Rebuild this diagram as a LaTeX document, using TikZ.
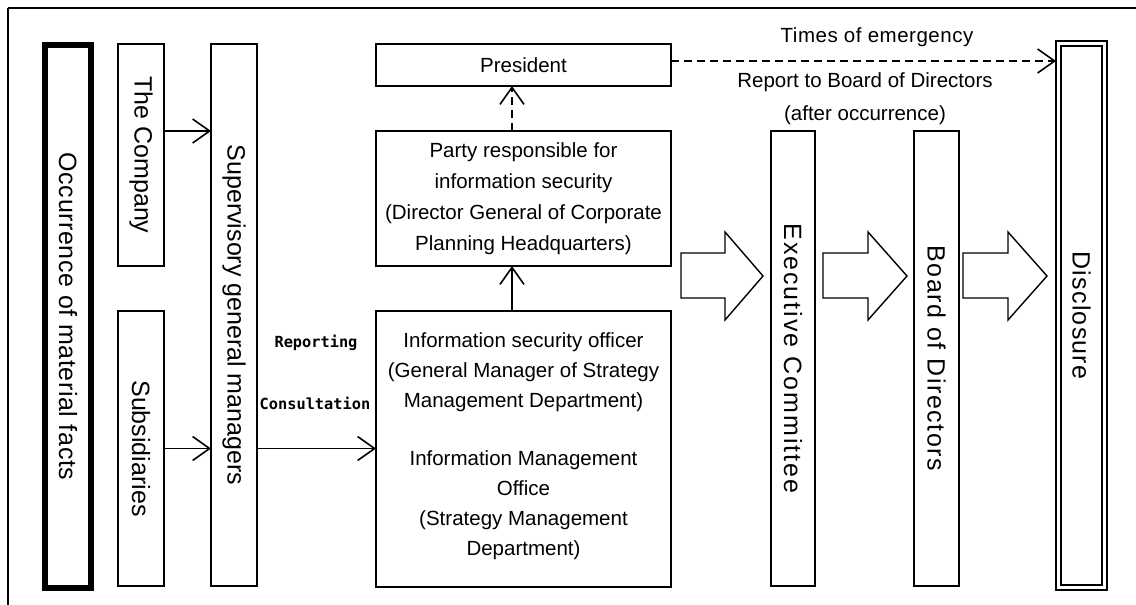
\documentclass[tikz,border=0pt]{standalone}
\usepackage{fontspec}
\setmainfont{Liberation Sans}
\newfontfamily\monob{DejaVu Sans Mono}
\newfontfamily\vexec{Liberation Sans}[LetterSpace=8]
\newfontfamily\vboard{Liberation Sans}[LetterSpace=6.5]
\newfontfamily\vdisc{Liberation Sans}[LetterSpace=5]
\newfontfamily\vocc{Liberation Sans}[LetterSpace=2.5]
\newfontfamily\htimes{Liberation Sans}[LetterSpace=2.5]
\usetikzlibrary{arrows.meta}
\begin{document}
\begin{tikzpicture}[x=1pt,y=-1pt,
  box/.style={draw, line width=2.6pt, inner sep=0pt, outer sep=0pt},
  htext/.style={align=center, inner sep=0pt, font=\fontsize{20.5}{31}\selectfont},
  vtext/.style={rotate=-90, inner sep=0pt, font=\fontsize{25}{30}\selectfont},
  smalllab/.style={inner sep=0pt, font=\monob\bfseries\fontsize{15.3}{18}\selectfont},
  conn/.style={line width=1.6pt, -{Straight Barb[length=17pt,width=24pt]}},
  dconn/.style={conn, dash pattern=on 8pt off 5pt},
  blockarrow/.style={draw, line width=1.4pt, line join=miter, fill=white}]
\useasboundingbox (0,0) rectangle (1136,605);
% outer frame (top and left only)
\draw[line width=2.5pt] (8,8) -- (1136,8);
\draw[line width=1.5pt] (8,8) -- (8,605);

% boxes
\node[box, line width=6pt, minimum width=46pt, minimum height=543pt] (occ) at (68,316.5) {};
\node[box, minimum width=46pt, minimum height=222pt] (company) at (141,155) {};
\node[box, minimum width=46pt, minimum height=275pt] (subs) at (141,448.5) {};
\node[box, minimum width=46pt, minimum height=542pt] (sup) at (234,315) {};
\node[box, minimum width=295pt, minimum height=42pt] (pres) at (523.5,65) {};
\node[box, minimum width=295pt, minimum height=135pt] (party) at (523.5,198.5) {};
\node[box, minimum width=295pt, minimum height=276pt] (info) at (523.5,449) {};
\node[box, minimum width=44pt, minimum height=455pt] (exec) at (793,358.5) {};
\node[box, minimum width=45pt, minimum height=455pt] (board) at (936.5,358.5) {};
\node[box, line width=2.8pt, minimum width=51pt, minimum height=549pt] (disc) at (1081.5,315.5) {};
\node[box, line width=1.6pt, minimum width=41pt, minimum height=539pt] (discin) at (disc.center) {};

% vertical labels
\node[vtext] (occT) at (occ.center) {\vocc Occurrence of material facts};
\node[vtext] (companyT) at (company.center) {The Company};
\node[vtext] (subsT) at (subs.center) {Subsidiaries};
\node[vtext] (supT) at (sup.center) {Supervisory general managers};
\node[vtext] (execT) at (exec.center) {\vexec Executive Committee};
\node[vtext] (boardT) at (board.center) {\vboard Board of Directors};
\node[vtext] (discT) at (disc.center) {\vdisc Disclosure};

% horizontal labels
\node[htext] (presT) at (pres.center) {President};
\node[htext] (partyT) at (party.center) {Party responsible for\\information security\\(Director General of Corporate\\Planning Headquarters)};
\node[htext, font=\fontsize{20.5}{30}\selectfont] (infoA) at (523.5,372) {Information security officer\\(General Manager of Strategy\\Management Department)};
\node[htext, font=\fontsize{20.5}{30}\selectfont] (infoB) at (523.5,505) {Information Management\\Office\\(Strategy Management\\Department)};
\node[htext, font=\htimes\fontsize{20.5}{31}\selectfont] (timesT) at (877,37) {Times of emergency};
\node[htext] (reportT) at (865,82) {Report to Board of Directors};
\node[htext] (afterT) at (865,115) {(after occurrence)};
\node[smalllab] (repL) at (316,343) {Reporting};
\node[smalllab] (conL) at (315,403) {Consultation};

% connectors
\draw[conn] (company.east |- 0,131) -- (sup.west |- 0,131);
\draw[conn] (subs.east) -- (subs.east -| sup.west);
\draw[conn] (sup.east |- subs.east) -- (info.west |- subs.east);
\draw[conn] (info.north -| 512,0) -- (party.south -| 512,0);
\draw[dconn] (party.north -| 512,0) -- (pres.south -| 512,0);
\draw[dconn] (pres.east |- 0,61) -- (disc.west |- 0,61);

% block arrows
\draw[blockarrow] (681,253) -- (725,253) -- (725,232) -- (763,276) -- (725,320) -- (725,298) -- (681,298) -- cycle;
\draw[blockarrow] (823,253) -- (868,253) -- (868,232) -- (907,276) -- (868,320) -- (868,298) -- (823,298) -- cycle;
\draw[blockarrow] (963,253) -- (1008,253) -- (1008,232) -- (1047,276) -- (1008,320) -- (1008,298) -- (963,298) -- cycle;
\end{tikzpicture}
\end{document}
